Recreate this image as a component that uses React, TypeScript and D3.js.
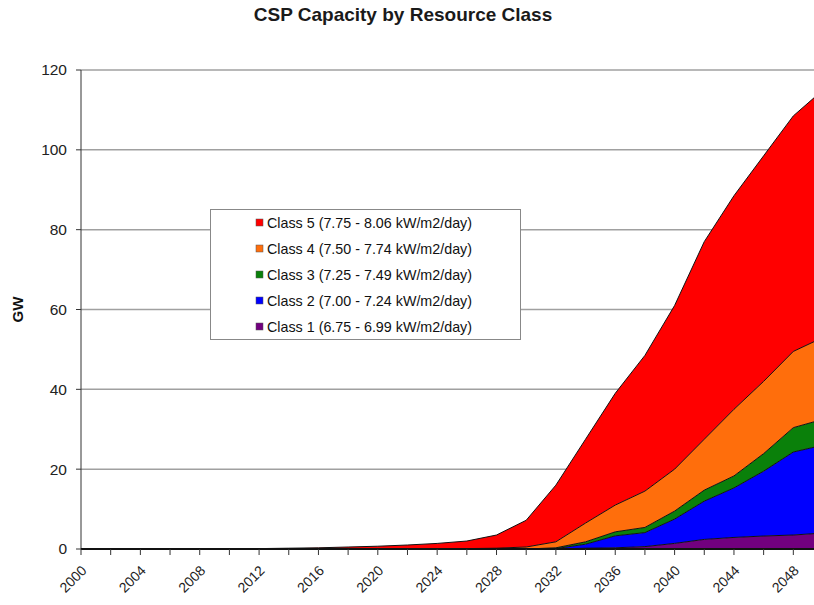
import React from "react";
import * as d3 from "d3";

const years = [2000, 2002, 2004, 2006, 2008, 2010, 2012, 2014, 2016, 2018, 2020, 2022, 2024, 2026, 2028, 2030, 2032, 2034, 2036, 2038, 2040, 2042, 2044, 2046, 2048, 2050];

const class1 = [0, 0, 0, 0, 0, 0, 0, 0, 0, 0, 0, 0, 0, 0, 0, 0, 0, 0.2, 0.3, 0.6, 1.4, 2.4, 2.9, 3.25, 3.5, 4.0];
const class2 = [0, 0, 0, 0, 0, 0, 0, 0, 0, 0, 0, 0, 0, 0, 0, 0, 0.1, 1.0, 3.0, 3.5, 6.1, 9.6, 12.4, 16.25, 20.8, 22.0];
const class3 = [0, 0, 0, 0, 0, 0, 0, 0, 0, 0, 0, 0, 0, 0, 0, 0, 0.2, 0.6, 1.0, 1.3, 2.0, 2.75, 3.0, 4.4, 6.1, 6.5];
const class4 = [0, 0, 0, 0, 0, 0, 0, 0, 0, 0, 0, 0, 0, 0.1, 0.2, 0.5, 1.5, 4.7, 6.7, 9.1, 10.5, 12.75, 16.7, 18.1, 19.1, 20.5];
const class5 = [0.1, 0.1, 0.1, 0.1, 0.1, 0.1, 0.1, 0.2, 0.3, 0.5, 0.7, 1.0, 1.4, 1.9, 3.3, 6.7, 14.2, 21.0, 28.0, 34.0, 41.0, 49.5, 53.5, 56.5, 59.0, 62.0];

const seriesNames = [
  "Class 1 (6.75 - 6.99 kW/m2/day)",
  "Class 2 (7.00 - 7.24 kW/m2/day)",
  "Class 3 (7.25 - 7.49 kW/m2/day)",
  "Class 4 (7.50 - 7.74 kW/m2/day)",
  "Class 5 (7.75 - 8.06 kW/m2/day)",
];
const seriesColors = ["#72007F", "#0000FF", "#0A800A", "#FF6E0C", "#FF0000"];
const yTicks = [0, 20, 40, 60, 80, 100, 120];
const xLabelYears = [2000, 2004, 2008, 2012, 2016, 2020, 2024, 2028, 2032, 2036, 2040, 2044, 2048];

const W = 814;
const H = 605;
const FONT = "Arial, 'Liberation Sans', sans-serif";

export default function App() {
  const x = d3.scaleLinear().domain([2000, 2050]).range([81, 823]);
  const y = d3.scaleLinear().domain([0, 120]).range([549, 70]);

  const allSeries = [class1, class2, class3, class4, class5];
  const table = years.map((yr, i) => {
    const row: any = { year: yr };
    seriesNames.forEach((n, k) => (row[n] = allSeries[k][i]));
    return row;
  });
  const stacked = d3.stack<any>().keys(seriesNames)(table);

  const area = d3
    .area<any>()
    .x((d) => x(d.data.year))
    .y0((d) => y(d[0]))
    .y1((d) => y(d[1]));
  const topLine = d3
    .line<any>()
    .x((d) => x(d.data.year))
    .y((d) => y(d[1]));

  const legendOrder = [4, 3, 2, 1, 0];

  return (
    <svg width={W} height={H} style={{ position: "absolute", left: 0, top: 0, background: "#fff" }} fontFamily={FONT}>
      <rect x={0} y={0} width={W} height={H} fill="#fff" />
      <text x={403} y={21} textAnchor="middle" fontSize={19} fontWeight="bold" fill="#1a1a1a">
        CSP Capacity by Resource Class
      </text>

      {/* gridlines */}
      {yTicks.filter((t) => t > 0).map((t) => (
        <line key={t} x1={81} x2={W} y1={y(t)} y2={y(t)} stroke="#a0a0a0" strokeWidth={1.5} />
      ))}

      {/* areas */}
      {stacked.map((s, k) => (
        <path key={"a" + k} d={area(s) || ""} fill={seriesColors[k]} />
      ))}
      {stacked.map((s, k) => (
        <path key={"l" + k} d={topLine(s) || ""} fill="none" stroke="#111" strokeWidth={1} />
      ))}

      {/* y axis */}
      <line x1={81} x2={81} y1={70} y2={549} stroke="#333" strokeWidth={1} />
      {yTicks.map((t) => (
        <g key={"yt" + t}>
          <line x1={76} x2={81} y1={y(t)} y2={y(t)} stroke="#333" />
          <text x={67} y={y(t)} dy="0.35em" textAnchor="end" fontSize={15.5} fill="#222">
            {t}
          </text>
        </g>
      ))}
      <text transform={`translate(23,${y(60)}) rotate(-90)`} textAnchor="middle" fontSize={15} fontWeight="bold" fill="#111">
        GW
      </text>

      {/* x axis */}
      <line x1={81} x2={W} y1={549} y2={549} stroke="#111" strokeWidth={2} />
      {years.map((yr) => (
        <line key={"xt" + yr} x1={x(yr)} x2={x(yr)} y1={549} y2={555} stroke="#333" />
      ))}
      {xLabelYears.map((yr) => (
        <text
          key={"xl" + yr}
          transform={`translate(${x(yr) + 3},${568}) rotate(-45)`}
          textAnchor="end"
          dy="0.35em"
          fontSize={14}
          fill="#222"
        >
          {yr}
        </text>
      ))}

      {/* legend */}
      <rect x={210.5} y={209.5} width={310} height={130} fill="#fff" stroke="#888" strokeWidth={1} />
      {legendOrder.map((k, i) => (
        <g key={"lg" + k}>
          <rect x={256} y={219 + i * 26} width={7} height={7} fill={seriesColors[k]} stroke="#555" strokeWidth={0.5} />
          <text x={267} y={223 + i * 26} dy="0.35em" fontSize={14.3} fill="#111">
            {seriesNames[k]}
          </text>
        </g>
      ))}
    </svg>
  );
}
